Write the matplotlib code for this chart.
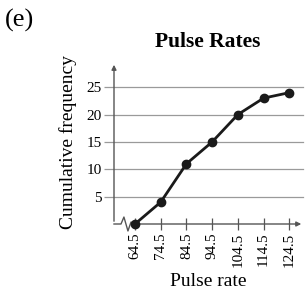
import matplotlib.pyplot as plt

# cumulative frequency by pulse rate (class boundaries)
pulse_rate = [64.5, 74.5, 84.5, 94.5, 104.5, 114.5, 124.5]
cum_freq = [0, 4, 11, 15, 20, 23, 24]
y_ticks = [5, 10, 15, 20, 25]

plt.rcParams['font.family'] = ['Liberation Serif', 'DejaVu Serif']

fig = plt.figure(figsize=(3.05, 2.93), dpi=100)
ax = fig.add_axes([114 / 305, 69 / 293, 191 / 305, 162 / 293])

ax.set_xlim(56.33, 130.6)
ax.set_ylim(0, 29.6)

# gridlines
for v in y_ticks:
    ax.axhline(v, xmax=0.99, color='#9a9a9a', lw=0.9, zorder=1)

ax.plot(pulse_rate, cum_freq, color='#1a1a1a', lw=2, marker='o', ms=6, zorder=3, clip_on=False)

for s in ax.spines.values():
    s.set_visible(False)

# y axis with arrow
ax.annotate('', xy=(0, 1.0), xytext=(0, 0), xycoords='axes fraction',
            arrowprops=dict(arrowstyle='-|>', color='#555555', lw=1.0, mutation_scale=7))
# x axis with break (zigzag)
zx = [0, 0.0366, 0.052, 0.073, 0.089, 0.105, 0.95]
zy = [0, 0, 0.043, -0.043, 0.012, 0, 0]
ax.plot(zx, zy, transform=ax.transAxes, color='#555555', lw=1.0, clip_on=False, zorder=2)
ax.annotate('', xy=(0.995, 0), xytext=(0.94, 0), xycoords='axes fraction',
            arrowprops=dict(arrowstyle='-|>', color='#555555', lw=1.0, mutation_scale=7))

ax.set_xticks(pulse_rate)
ax.set_xticklabels([str(p) for p in pulse_rate], rotation=90, fontsize=11)
ax.set_yticks(y_ticks)
ax.set_yticklabels([str(v) for v in y_ticks], fontsize=11)
ax.tick_params(axis='x', direction='inout', length=8.5, width=0.9, color='#555555', pad=2)
ax.tick_params(axis='y', direction='out', length=7, width=0.9, color='#9a9a9a', pad=2)

fig.text(20 / 305, 1 - 20 / 293, '(e)', fontsize=19, ha='center', va='center')
fig.text(208 / 305, 1 - 42 / 293, 'Pulse Rates', fontsize=15.5, fontweight='bold', ha='center', va='center')
fig.text(208 / 305, 1 - 282 / 293, 'Pulse rate', fontsize=14, ha='center', va='center')
fig.text(68 / 305, 1 - 142 / 293, 'Cumulative frequency', fontsize=14, rotation=90, ha='center', va='center')

fig.savefig('out.png', dpi=100)
